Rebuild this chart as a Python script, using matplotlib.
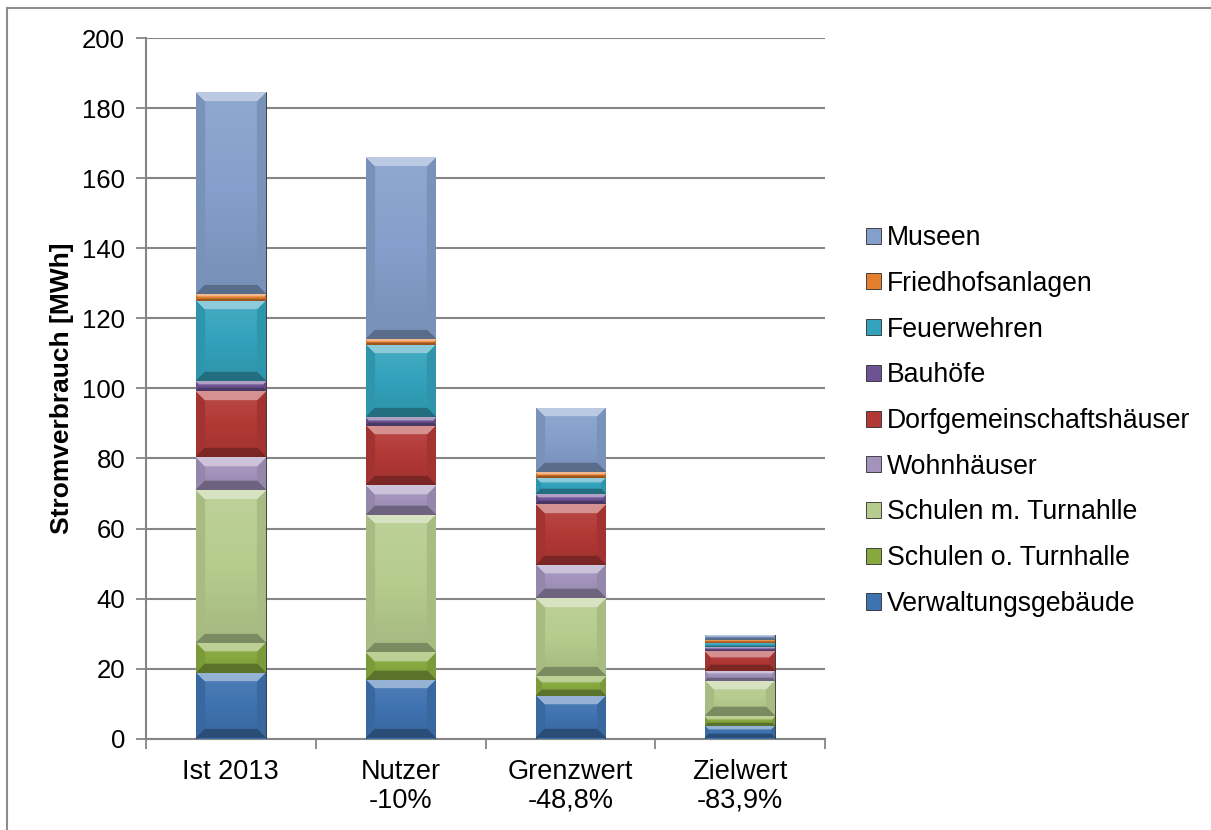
import numpy as np
import matplotlib
matplotlib.use("Agg")
import matplotlib.pyplot as plt
from matplotlib import font_manager
from matplotlib.colors import to_rgb
from matplotlib.lines import Line2D

plt.rcParams['font.family'] = ['Liberation Sans', 'DejaVu Sans']

categories = ["Ist 2013", "Nutzer\n-10%", "Grenzwert\n-48,8%", "Zielwert\n-83,9%"]

# MWh per building group (bottom to top)
verwaltung = [18.6, 16.7, 12.2, 3.7]
schulen_ohne = [8.8, 7.9, 5.7, 2.6]
schulen_mit = [43.7, 39.3, 22.2, 10.2]
wohnhaeuser = [9.4, 8.5, 9.5, 2.9]
dorfgemeinschaft = [18.8, 16.9, 17.4, 5.7]
bauhoefe = [2.8, 2.5, 2.8, 1.0]
feuerwehren = [22.9, 20.6, 4.6, 1.2]
friedhof = [1.9, 1.7, 1.7, 0.9]
museen = [57.7, 51.9, 18.3, 1.5]

series = [
    ("Verwaltungsgebäude", verwaltung, "#3F72B0"),
    ("Schulen o. Turnhalle", schulen_ohne, "#86A83F"),
    ("Schulen m. Turnahlle", schulen_mit, "#B6CC8E"),
    ("Wohnhäuser", wohnhaeuser, "#A393BC"),
    ("Dorfgemeinschaftshäuser", dorfgemeinschaft, "#B23835"),
    ("Bauhöfe", bauhoefe, "#6E5394"),
    ("Feuerwehren", feuerwehren, "#33A2BC"),
    ("Friedhofsanlagen", friedhof, "#E47F2E"),
    ("Museen", museen, "#849FCB"),
]

# narrow font for the category labels if there is one
names = {f.name for f in font_manager.fontManager.ttflist}
if "Liberation Sans Narrow" in names:
    xfont, xsize = ["Liberation Sans Narrow", "DejaVu Sans"], 22
else:
    xfont, xsize = ["Liberation Sans", "DejaVu Sans"], 19.5

W, H = 1211, 830
fig = plt.figure(figsize=(W / 100, H / 100), dpi=100)
ax = fig.add_axes([146 / W, (H - 738.5) / H, (825 - 146) / W, 700 / H])

x = np.arange(len(categories))
bar_w = 0.41
bottom = np.zeros(len(categories))
containers = []
for name, vals, col in series:
    bars = ax.bar(x, vals, bar_w, bottom=bottom, color=col, label=name,
                  edgecolor="#2b2b2b", linewidth=0.6, zorder=3)
    containers.append((bars, col))
    bottom += np.array(vals)

ax.set_xlim(-0.5, len(categories) - 0.5)
ax.set_ylim(0, 200)
ax.set_yticks(np.arange(0, 201, 20))
ax.set_xticks(x)
ax.set_xticklabels(categories, fontsize=xsize, family=xfont, linespacing=1.12)
ax.set_xticks(np.arange(-0.5, len(categories)), minor=True)
ax.tick_params(axis='x', which='major', length=0, pad=15)
ax.tick_params(axis='x', which='minor', length=7, width=1.3, color="#868686")
ax.tick_params(axis='y', length=7, width=1.3, color="#868686", labelsize=18.5, pad=8)
ax.grid(axis='y', color="#868686", linewidth=1.5, zorder=0)
ax.set_axisbelow(True)
for s in ("top", "right"):
    ax.spines[s].set_visible(False)
for s in ("left", "bottom"):
    ax.spines[s].set_color("#868686")
    ax.spines[s].set_linewidth(1.5)
ax.set_ylabel("Stromverbrauch [MWh]", fontsize=19, fontweight="bold", labelpad=6)

# bevel shading on each bar segment, clipped to the bar patch
fig.canvas.draw()
bev = 9.0
for bars, col in containers:
    base = np.array(to_rgb(col))
    for p in bars:
        x0, y0 = p.get_x(), p.get_y()
        x1, y1 = x0 + p.get_width(), y0 + p.get_height()
        (px0, py0), (px1, py1) = ax.transData.transform([(x0, y0), (x1, y1)])
        nx = max(int(px1 - px0), 2)
        ny = max(int(py1 - py0), 2)
        b = min(bev, ny / 3.0)
        xx, yy = np.meshgrid(np.arange(nx) + 0.5, np.arange(ny) + 0.5)
        dl, dr = xx, nx - xx
        dt, db = yy, ny - yy  # row 0 is top
        dmin = np.minimum(np.minimum(dl, dr), np.minimum(dt, db))
        # body gradient: lighter toward top
        f = 0.10 * (1 - yy / ny) - 0.10 * (yy / ny)
        inb = dmin < b
        top = inb & (dt == dmin)
        botm = inb & (db == dmin) & ~top
        side = inb & ~top & ~botm
        f[top] = 0.45
        f[botm] = -0.32
        f[side] = -0.08
        img = np.empty((ny, nx, 3))
        for k in range(3):
            c = base[k]
            img[..., k] = np.where(f >= 0, c + (1 - c) * f, c * (1 + f))
        im = ax.imshow(np.clip(img, 0, 1), extent=(x0, x1, y0, y1), aspect='auto',
                       interpolation='bilinear', zorder=3.5)
        im.set_clip_path(p)
ax.set_xlim(-0.5, len(categories) - 0.5)
ax.set_ylim(0, 200)

handles, labels = ax.get_legend_handles_labels()
leg = fig.legend(handles[::-1], labels[::-1], loc="center left",
                 bbox_to_anchor=(866 / W, (H - 421) / H), frameon=False,
                 fontsize=19.2, handlelength=0.55, handleheight=0.55,
                 handletextpad=0.22, labelspacing=0.74, borderpad=0, borderaxespad=0)

# outer frame (top and left edges visible in the reference)
fig.add_artist(Line2D([7 / W, 7 / W], [0, (H - 8) / H], color="#8c8c8c", lw=1.5))
fig.add_artist(Line2D([7 / W, 1], [(H - 8) / H, (H - 8) / H], color="#8c8c8c", lw=1.5))

fig.savefig("out.png", dpi=100)
